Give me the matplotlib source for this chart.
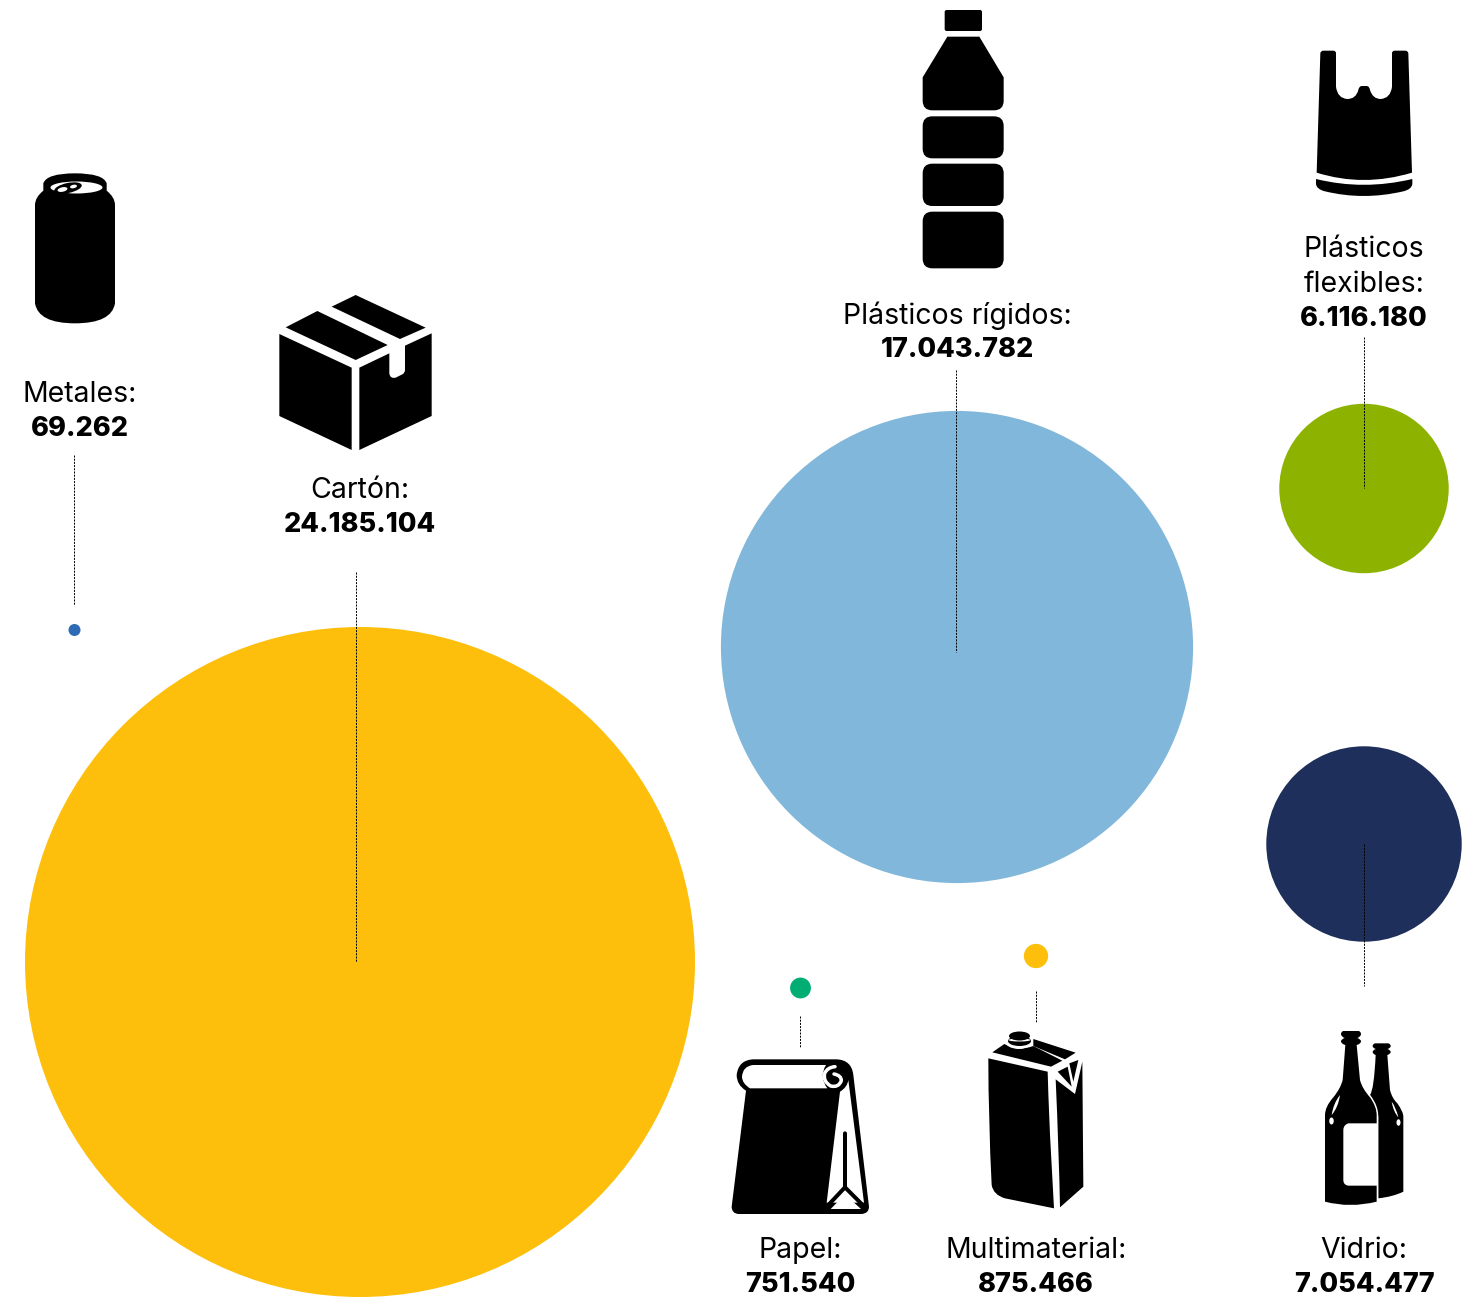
import re
import matplotlib
matplotlib.use("Agg")
import matplotlib.pyplot as plt
from matplotlib.patches import Circle, Ellipse, PathPatch
from matplotlib.path import Path

# Tonnage per material
materials = ["Metales", "Cartón", "Plásticos rígidos", "Plásticos flexibles", "Vidrio", "Multimaterial", "Papel"]
values = [69262, 24185104, 17043782, 6116180, 7054477, 875466, 751540]
value_labels = ["69.262", "24.185.104", "17.043.782", "6.116.180", "7.054.477", "875.466", "751.540"]
label_lines = [["Metales:"], ["Cartón:"], ["Plásticos rígidos:"], ["Plásticos", "flexibles:"],
               ["Vidrio:"], ["Multimaterial:"], ["Papel:"]]

# Layout in canvas pixels
centers = [(74.5, 630), (360, 962), (957, 647), (1364, 488.5), (1364, 844), (1036, 956), (800.5, 988)]
colors = ["#2D6CB5", "#FDBF0B", "#81B7DA", "#8DB300", "#1F2F5C", "#FDBF0B", "#00AD72"]
text_x = [80, 360, 957, 1364, 1364, 1036, 800.5]
text_y = [394.5, 490.5, 315.5, 249.5, 1251, 1251, 1251]
leaders = [(74, 455, 605), (356, 572, 962), (956, 370, 652), (1364, 337, 488),
           (1364, 844, 986), (1036, 991, 1022), (800, 1016, 1048)]
RADIUS_PER_UNIT = 335 / 24185104
MIN_RADIUS = 6
LINE_STEP = 34.5

FONT = "Inter"
LABEL_SIZE = 20.5
VALUE_SIZE = 19.5

fig = plt.figure(figsize=(14.76, 12.97), dpi=100, facecolor="white")
ax = fig.add_axes([0, 0, 1, 1])
ax.set_xlim(0, 1476)
ax.set_ylim(1297, 0)
ax.axis("off")
PX = 0.72  # points per canvas pixel at this dpi


def svg_path(d, origin, scale=1 / 3):
    """Small parser for absolute M/L/Q/C/Z path strings, mapped into canvas pixels."""
    ox, oy = origin
    verts, codes = [], []
    for cmd, body in re.findall(r"([MLQCZ])([^MLQCZ]*)", d):
        nums = [float(n) for n in body.split()]
        pts = [(ox + nums[i] * scale, oy + nums[i + 1] * scale) for i in range(0, len(nums), 2)]
        if cmd == "M":
            verts += pts; codes += [Path.MOVETO] + [Path.LINETO] * (len(pts) - 1)
        elif cmd == "L":
            verts += pts; codes += [Path.LINETO] * len(pts)
        elif cmd == "Q":
            verts += pts; codes += [Path.CURVE3] * len(pts)
        elif cmd == "C":
            verts += pts; codes += [Path.CURVE4] * len(pts)
        elif cmd == "Z":
            verts.append(verts[-1]); codes.append(Path.CLOSEPOLY)
    return Path(verts, codes)


def shape(d, origin, color="black", zorder=4, edge=None, lw=0):
    ax.add_patch(PathPatch(svg_path(d, origin), facecolor=color, edgecolor=edge or "none",
                           linewidth=lw * PX, zorder=zorder))


def stroke(d, origin, color="black", lw=4, zorder=4):
    ax.add_patch(PathPatch(svg_path(d, origin), facecolor="none", edgecolor=color,
                           linewidth=lw * PX, zorder=zorder, capstyle="round", joinstyle="round"))


def draw_bottle():
    o = (900, 0)
    shape("M 140 30 L 240 30 Q 246 30 246 36 L 246 87 Q 246 93 240 93 L 140 93 Q 134 93 134 87 L 134 36 Q 134 30 140 30 Z", o)
    shape("M 142 110 L 238 110 L 311 232 L 311 302 Q 311 331 282 331 L 97 331 Q 68 331 68 302 L 68 232 Z", o)
    for top, bottom in [(349, 475), (491, 618), (635, 805)]:
        shape(f"M 97 {top} L 282 {top} Q 311 {top} 311 {top + 29} L 311 {bottom - 29} Q 311 {bottom} 282 {bottom} "
              f"L 97 {bottom} Q 68 {bottom} 68 {bottom - 29} L 68 {top + 29} Q 68 {top} 97 {top} Z", o)


def draw_bag():
    o = (1290, 30)
    shape("M 100 62 L 130 62 Q 138 62 138 70 L 138 170 Q 142 205 172 207 Q 198 207 205 180 Q 207 168 216 168 "
          "L 230 168 Q 238 168 240 180 Q 248 207 272 207 Q 302 205 306 170 L 306 70 Q 306 62 314 62 L 346 62 Q 354 62 355 70 "
          "L 366 428 Q 220 472 80 428 L 91 70 Q 92 62 100 62 Z", o)
    shape("M 78 447 Q 220 482 367 447 L 367 462 Q 365 478 340 484 Q 220 512 105 484 Q 80 478 78 462 Z", o)


def draw_can():
    o = (15, 160)
    shape("M 85 70 Q 95 40 180 40 Q 265 40 275 70 L 275 92 Q 300 112 300 135 L 300 430 Q 290 490 180 490 "
          "Q 70 490 60 430 L 60 135 Q 60 112 85 92 Z", o)
    ax.add_patch(Ellipse((76.5, 187.5), 52, 12, facecolor="white", zorder=5))
    ax.add_patch(Ellipse((68, 188), 28, 10, angle=-12, facecolor="black", zorder=6))
    ax.add_patch(Ellipse((62.5, 189.5), 10, 4.5, angle=-12, facecolor="white", zorder=7))
    ax.add_patch(Ellipse((73.5, 186.5), 7, 3.5, angle=-12, facecolor="white", zorder=7))


def draw_box():
    o = (265, 285)
    shape("M 200 65 L 272 30 L 482 128 L 405 162 Z", o)
    shape("M 62 127 L 157 78 L 368 180 L 272 225 Z", o)
    shape("M 43 147 L 260 248 L 260 495 L 43 393 Z", o)
    shape("M 283 248 L 373 205 L 373 265 Q 375 282 392 278 L 412 268 Q 420 264 420 255 L 420 182 L 500 145 "
          "L 500 393 L 283 495 Z", o)


def draw_paper():
    o = (720, 1050)
    shape("M 35 470 L 78 122 Q 50 105 50 75 Q 55 30 100 28 L 350 28 Q 395 30 400 75 L 447 470 Q 447 490 425 492 "
          "L 55 492 Q 35 490 35 470 Z", o)
    shape("M 100 45 L 318 45 Q 296 80 322 115 L 90 115 Q 66 100 66 80 Q 68 48 100 45 Z", o, "white", 5)
    shape("M 360 125 Q 382 112 385 90 L 432 458 L 320 458 Z", o, "white", 5)
    stroke("M 375 250 L 375 412 L 325 465 M 375 412 L 428 465", o, "black", 4, 6)
    shape("M 332 477 L 375 433 L 423 477 Z", o, "white", 7)
    stroke("M 342 72 Q 364 76 364 92 Q 356 114 332 108 Q 308 94 314 70 Q 322 52 345 50", o, "white", 3.5, 6)


def draw_carton():
    o = (975, 1020)
    shape("M 40 115 L 218 155 Q 222 300 228 400 L 237 565 L 90 535 Q 55 525 50 495 Q 40 300 40 115 Z", o)
    shape("M 242 178 L 300 222 L 322 125 L 325 500 L 255 562 Q 252 400 242 178 Z", o)
    shape("M 248 155 L 278 140 L 290 200 Z", o)
    shape("M 283 130 L 310 120 L 295 185 Z", o)
    shape("M 52 97 L 88 72 Q 130 95 175 78 L 262 122 L 228 140 Z", o)
    shape("M 175 57 L 302 98 L 270 118 L 175 78 Z", o)
    ax.add_patch(Ellipse((1019, 1041), 28, 16, facecolor="white", zorder=5))
    ax.add_patch(Ellipse((1019.5, 1041), 23, 10, facecolor="black", zorder=5.5))
    ax.add_patch(Ellipse((1019.5, 1040), 22, 3, facecolor="white", zorder=6.5))
    ax.add_patch(Ellipse((1019.5, 1036), 21, 9, facecolor="black", zorder=7))


BIG_BOTTLE = ("M 100 33 L 146 33 Q 153 35 153 42 Q 153 50 142 54 Q 153 58 153 64 Q 152 72 140 75 L 150 180 "
              "Q 156 205 180 232 Q 200 260 200 285 L 200 545 Q 120 565 45 545 L 45 285 Q 45 260 70 232 "
              "Q 92 205 98 180 L 106 75 Q 94 72 93 64 Q 93 58 104 54 Q 93 50 93 42 Q 93 35 100 33 Z")


def draw_bottles():
    o = (1310, 1020)
    # Smaller bottle sits behind the larger one, separated by a white halo
    shape("M 195 70 L 235 70 Q 242 72 242 78 Q 242 85 232 87 Q 242 90 242 96 Q 242 102 232 105 L 240 210 "
          "Q 246 235 262 250 Q 280 275 280 290 L 280 515 Q 250 530 205 535 L 205 290 Q 200 260 180 225 "
          "Q 192 210 197 105 Q 188 102 188 96 Q 188 90 198 87 Q 188 85 188 78 Q 188 72 195 70 Z", o)
    shape("M 245 245 Q 258 262 265 292 Q 250 275 245 245 Z", o, "white", 5)
    ax.add_patch(Ellipse((1398.5, 1122.5), 4, 6.5, facecolor="white", zorder=5))
    shape(BIG_BOTTLE, o, "white", 5.5, "white", 3)
    shape(BIG_BOTTLE, o, "black", 6)
    shape("M 204 310 L 115 310 Q 100 315 100 330 L 100 480 Q 100 495 115 497 L 204 497 Z", o, "white", 7)
    shape("M 90 225 Q 70 250 65 285 Q 85 262 90 225 Z", o, "white", 7)
    ax.add_patch(Ellipse((1331.5, 1121), 4.5, 7, facecolor="white", zorder=7))


# Bubbles: radius scales linearly with tonnage, with a floor so tiny values stay visible
for value, (cx, cy), color in zip(values, centers, colors):
    radius = max(value * RADIUS_PER_UNIT, MIN_RADIUS)
    ax.add_patch(Circle((cx, cy), radius, facecolor=color, edgecolor="none", zorder=2))

# Dashed leaders from the labels into the bubbles
for x, y0, y1 in leaders:
    ax.plot([x, x], [y0, y1], color="black", lw=1 * PX, ls=(0, (2, 1.2)), zorder=3)

# Labels: material name(s), then the value in bold
for lines, value_text, x, y in zip(label_lines, value_labels, text_x, text_y):
    for i, line in enumerate(lines):
        ax.text(x, y + i * LINE_STEP, line, ha="center", va="center", family=FONT, fontsize=LABEL_SIZE,
                fontweight="normal", color="black", zorder=8)
    ax.text(x, y + len(lines) * LINE_STEP, value_text, ha="center", va="center", family=FONT, fontsize=VALUE_SIZE,
            fontweight=800, color="black", zorder=8)

for draw_icon in (draw_bottle, draw_bag, draw_can, draw_box, draw_paper, draw_carton, draw_bottles):
    draw_icon()

fig.savefig("out.png", dpi=100, facecolor="white")
